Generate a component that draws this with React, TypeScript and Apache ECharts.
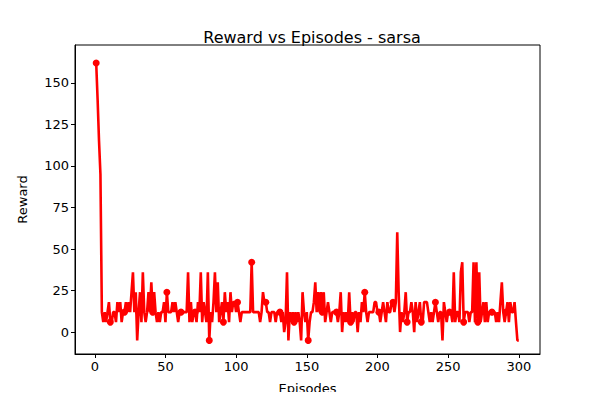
import React, { useEffect, useRef } from 'react';
import * as echarts from 'echarts';

// rewards per episode
const rewards: number[] = [
  162, 140, 115, 95, 12, 6, 12, 6, 12, 18, 6, 6, 12, 12, 6, 18, 12, 18, 6, 12,
  12, 18, 12, 18, 12, 24, 36, 12, 24, -5, 12, 24, 6, 36, 12, 6, 12, 24, 12, 30,
  12, 24, 12, 6, 12, 6, 12, 12, 18, 6, 24, 12, 12, 12, 18, 12, 18, 12, 6, 12,
  12, 12, 12, 12, 12, 36, 6, 18, 6, 12, 12, 6, 18, 12, 36, 6, 18, 12, 6, 36,
  -5, 12, 6, 18, 36, 12, 30, 6, 12, 18, 6, 24, 12, 18, 6, 24, 12, 18, 18, 12,
  18, 12, 6, 12, 12, 12, 12, 12, 12, 12, 42, 12, 12, 12, 12, 12, 6, 12, 24, 18,
  18, 12, 12, 6, 12, 12, 12, 6, 12, 12, 12, 6, 12, 0, 6, 36, -5, 12, 6, 12,
  6, 12, 6, 12, 6, -5, 24, 12, 6, 12, -5, 6, 12, 12, 18, 30, 12, 24, 12, 24,
  12, 24, 6, 12, 18, 12, 6, 12, 12, 12, 12, 6, 12, 24, 0, 12, 6, 12, 6, 24,
  6, 12, 6, 12, 12, 0, 12, 6, 18, 12, 24, 12, 6, 12, 12, 12, 12, 18, 18, 12,
  12, 6, 12, 18, 12, 6, 18, 12, 12, 18, 18, 12, 18, 60, 24, 0, 12, 6, 12, 24,
  6, 12, 12, 18, 12, 0, 18, 6, 12, 18, 6, 6, 18, 18, 18, 12, 6, 12, 6, 12,
  18, 12, 6, 12, 12, -5, 18, 12, 6, 12, 12, 12, 6, 36, 6, 12, 12, 6, 36, 42,
  6, 12, 12, 12, 6, 12, 12, 42, 6, 42, 6, 36, 6, 12, 18, 6, 18, 6, 12, 12,
  12, 12, 12, 6, 12, 6, 18, 30, 12, 6, 12, 18, 6, 18, 12, 12, 18, 6, -5, -5,
];
const xTicks = [0, 50, 100, 150, 200, 250, 300];
const yTicks = [0, 25, 50, 75, 100, 125, 150];

const App: React.FC = () => {
  const chartRef = useRef<HTMLDivElement>(null);

  useEffect(() => {
    if (!chartRef.current) return;
    const chart = echarts.init(chartRef.current, undefined, { renderer: 'svg' });
    const font = 'DejaVu Sans';
    const axisCommon = {
      type: 'value',
      axisLine: { show: true, onZero: false, lineStyle: { color: '#000', width: 1 } },
      splitLine: { show: false },
      nameLocation: 'middle',
      nameTextStyle: { color: '#000', fontSize: 13, fontFamily: font },
    };
    const option: any = {
      animation: false,
      backgroundColor: '#fff',
      title: {
        text: 'Reward vs Episodes - sarsa',
        left: 307,
        textAlign: 'center',
        top: 24,
        textStyle: { fontSize: 16, fontWeight: 'normal', color: '#000', fontFamily: font },
      },
      grid: { left: 75, right: 60, top: 45, bottom: 45, show: true, borderColor: '#000', borderWidth: 1 },
      xAxis: {
        ...axisCommon,
        min: -14,
        max: 315,
        name: 'Episodes',
        nameGap: 28,
        axisTick: { show: true, customValues: xTicks, length: 4, lineStyle: { color: '#000' } },
        axisLabel: { customValues: xTicks, color: '#000', fontSize: 13, fontFamily: font, margin: 6 },
      },
      yAxis: {
        ...axisCommon,
        min: -13.2,
        max: 172.8,
        name: 'Reward',
        nameGap: 46,
        axisTick: { show: true, customValues: yTicks, length: 4, lineStyle: { color: '#000' } },
        axisLabel: { customValues: yTicks, color: '#000', fontSize: 13, fontFamily: font, margin: 6 },
      },
      series: [
        {
          type: 'line',
          data: rewards.map((v, i) => [i + 1, v]),
          showAllSymbol: true,
          symbol: 'circle',
          symbolSize: (_v: any, p: any) => (p.dataIndex % 10 === 0 ? 7 : 0),
          lineStyle: { color: '#ff0000', width: 2.6 },
          itemStyle: { color: '#ff0000' },
        },
      ],
    };
    chart.setOption(option);
    return () => chart.dispose();
  }, []);

  return <div ref={chartRef} style={{ width: 600, height: 400, margin: -8 }} />;
};

export default App;
